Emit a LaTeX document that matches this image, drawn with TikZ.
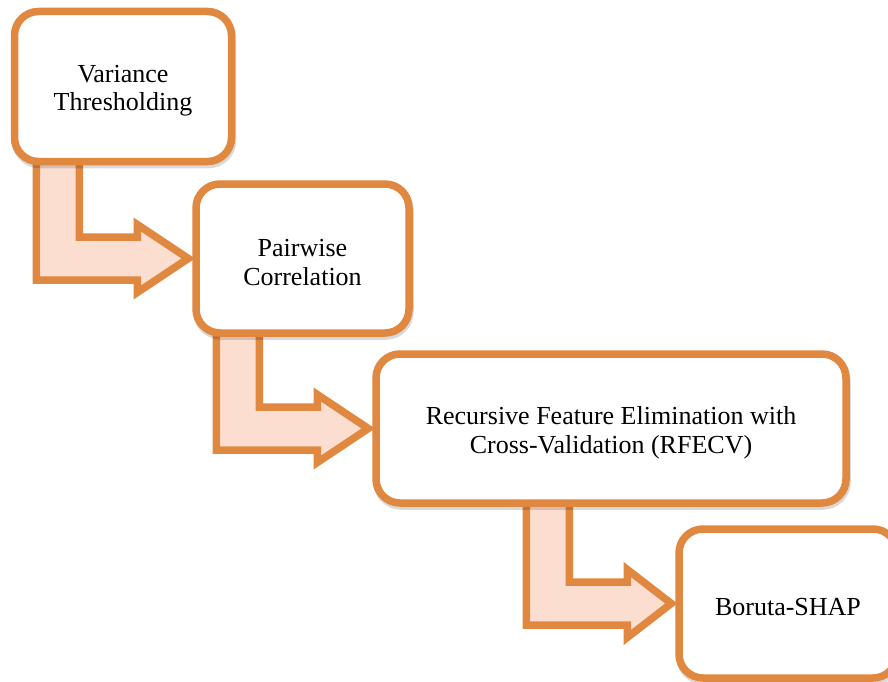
\documentclass[tikz,border=0pt]{standalone}
\usepackage{fontspec}
\setmainfont{Liberation Serif}
\usetikzlibrary{calc,shadows,backgrounds}

\definecolor{floworange}{RGB}{224,135,64}
\definecolor{flowpeach}{RGB}{252,222,208}

\tikzset{
  stagebox/.style={
    draw=floworange, line width=7.5pt, fill=white,
    rounded corners=24pt, inner sep=0pt,
    drop shadow={shadow xshift=1pt, shadow yshift=-3pt,
                 opacity=0.15, fill=black, draw=black, line width=7.5pt}
  },
  stagetext/.style={
    align=center, inner sep=0pt, text=black,
    font=\fontsize{26}{28.5}\selectfont
  },
  bentshape/.style={
    draw=floworange, line width=7.5pt, fill=flowpeach, line join=miter
  }
}

% Bent (down-then-right) block arrow from the bottom of #1 into the west side of #2.
% #3: distance of the vertical shaft's axis left of #2.west, #4: head length.
\newcommand{\bentconnector}[4]{%
  \coordinate (#2-shaft) at ($(#2.west)+(-#3,0)$);
  \draw[bentshape]
    ($(#2-shaft |- #1.south)+(-21.5,-12)$) --
    ($(#2-shaft |- #1.south)+(21.5,-12)$) --
    ($(#2-shaft)+(21.5,-21.5)$) --
    ($(#2.west)+(-#4,-21.5)$) --
    ($(#2.west)+(-#4,-34)$) --
    ($(#2.west)+(-4,0)$) --
    ($(#2.west)+(-#4,34)$) --
    ($(#2.west)+(-#4,21.5)$) --
    ($(#2-shaft)+(-21.5,21.5)$) -- cycle;
}

\begin{document}
\begin{tikzpicture}[x=1pt,y=-1pt]
  \useasboundingbox (0,0) rectangle (888,682);
  \clip (0,0) rectangle (888,682);

  % pipeline stages
  \node[stagebox, minimum width=217pt, minimum height=150pt] (vt) at (123,86.5) {};
  \node[stagebox, minimum width=213pt, minimum height=149pt] (pc) at (302.5,258.5) {};
  \node[stagebox, minimum width=470pt, minimum height=149pt] (rfecv) at (611,428.5) {};
  \node[stagebox, minimum width=218pt, minimum height=149pt] (boruta) at (788,603.5) {};

  % stage labels, set a little below each box's centre
  \node[stagetext] (vt-text) at ($(vt.center)+(0,4)$) {Variance\\Thresholding};
  \node[stagetext] (pc-text) at ($(pc.center)+(0,4)$) {Pairwise\\Correlation};
  \node[stagetext] (rfecv-text) at ($(rfecv.center)+(0,4)$)
    {Recursive Feature Elimination with\\Cross-Validation (RFECV)};
  \node[stagetext] (boruta-text) at ($(boruta.center)+(0,4)$) {Boruta-SHAP};

  % connectors sit behind the stage boxes
  \begin{pgfonlayer}{background}
    \fill[white] (0,0) rectangle (888,682);
    \bentconnector{vt}{pc}{134.5}{55}
    \bentconnector{pc}{rfecv}{134.5}{55}
    \bentconnector{rfecv}{boruta}{127.5}{48}
  \end{pgfonlayer}
\end{tikzpicture}
\end{document}
